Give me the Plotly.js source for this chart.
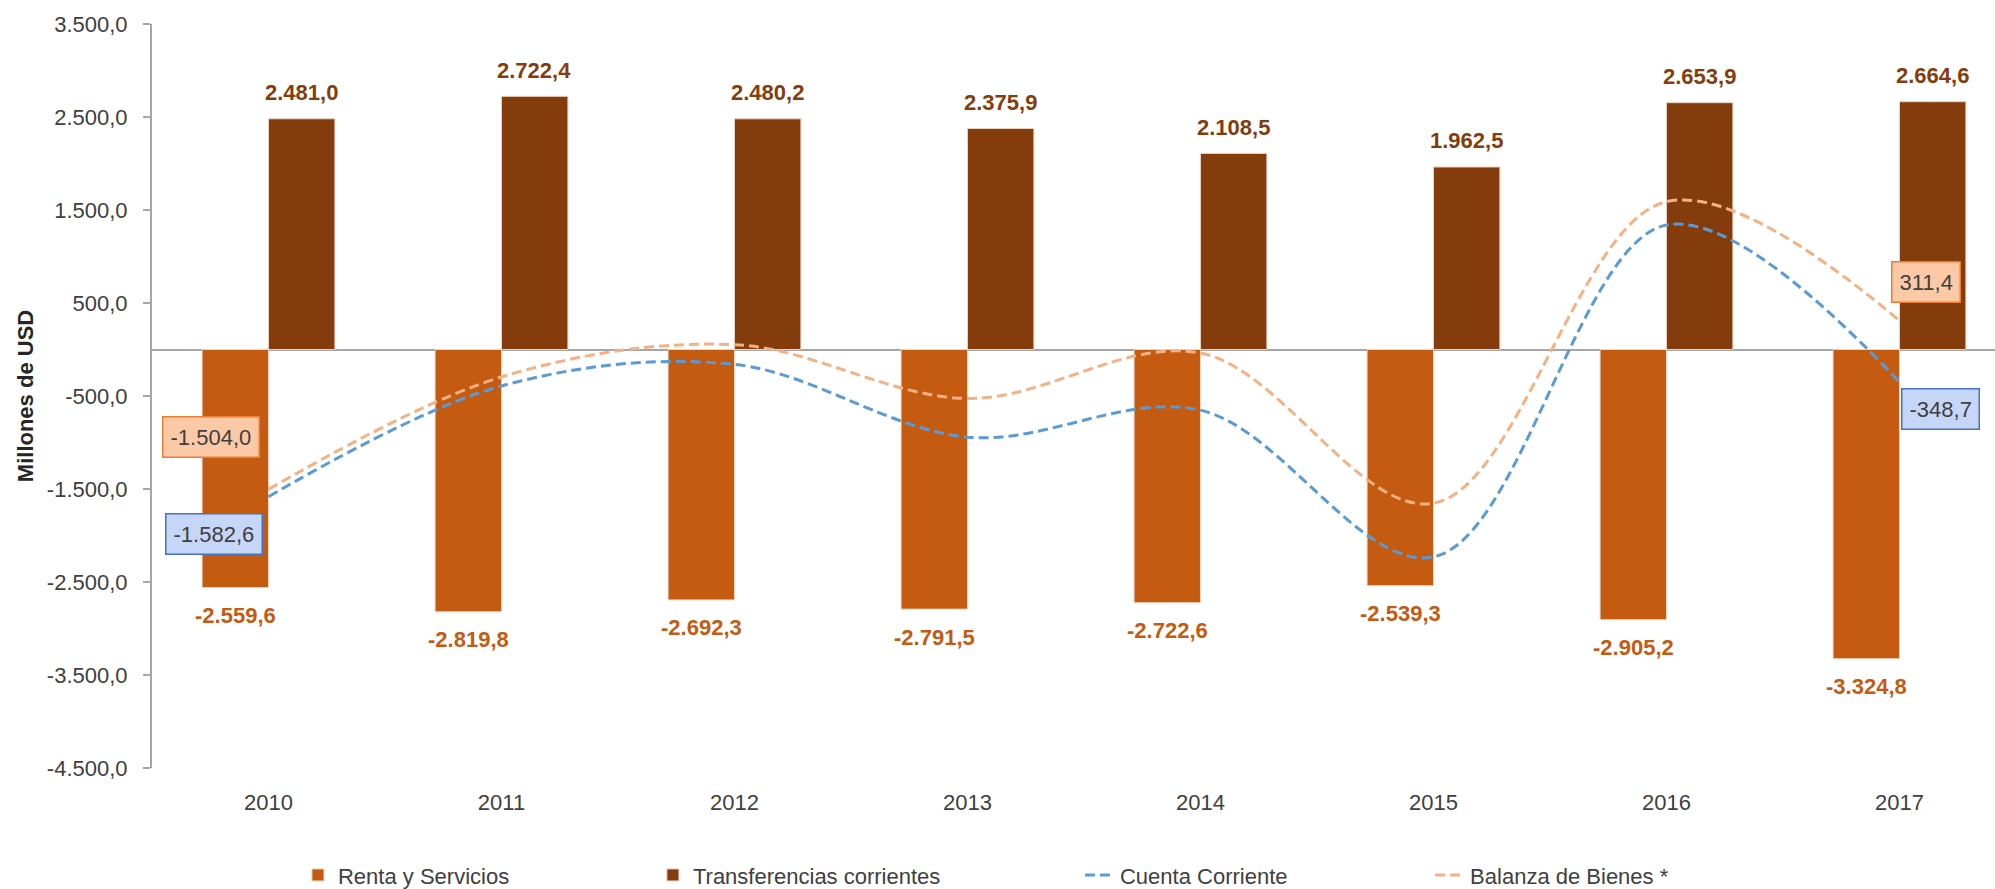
<!DOCTYPE html>
<html>
<head>
<meta charset="utf-8">
<script src="https://cdn.plot.ly/plotly-3.0.1.min.js"></script>
<style>
  html, body { margin: 0; padding: 0; background: #ffffff; }
  #chart { width: 1995px; height: 889px; }
  #err { position: absolute; left: 10px; top: 10px; color: red; font: 14px monospace; white-space: pre; }
</style>
</head>
<body>
<div id="chart"></div>
<div id="err"></div>
<script>
// ---- Data (millones de USD) ----
const years = ['2010', '2011', '2012', '2013', '2014', '2015', '2016', '2017'];
const rentaServicios = [-2559.6, -2819.8, -2692.3, -2791.5, -2722.6, -2539.3, -2905.2, -3324.8];
const transferencias = [2481.0, 2722.4, 2480.2, 2375.9, 2108.5, 1962.5, 2653.9, 2664.6];
const cuentaCorriente = [-1582.6, -392.4, -160.1, -942.6, -652.1, -2229.8, 1338.7, -348.7];
const balanzaBienes = [-1504.0, -295.0, 52.0, -527.0, -38.0, -1653.0, 1590.0, 311.4];
const yTickVals = [-4500, -3500, -2500, -1500, -500, 500, 1500, 2500, 3500];

const seriesNames = ['Renta y Servicios', 'Transferencias corrientes', 'Cuenta Corriente', 'Balanza de Bienes *'];

// ---- Styles ----
const FONT = '"Liberation Sans", Arial, sans-serif';
const FS = 22;
const C_RENTA = '#C55A11';
const C_TRANSF = '#843C0C';
const C_CC = '#5B9BD5';
const C_BB = '#F4B183';
const TXT = '#404040';
const AXIS = '#A6A6A6';

function fmt(v) {
  const neg = v < 0;
  const parts = Math.abs(v).toFixed(1).split('.');
  const intPart = parts[0].replace(/\B(?=(\d{3})+(?!\d))/g, '.');
  return (neg ? '-' : '') + intPart + ',' + parts[1];
}

const traces = [
  {
    type: 'bar', name: seriesNames[0], x: years, y: rentaServicios,
    marker: { color: C_RENTA, line: { color: '#E9D3C2', width: 1 } },
    legend: 'legend'
  },
  {
    type: 'bar', name: seriesNames[1], x: years, y: transferencias,
    marker: { color: C_TRANSF, line: { color: '#E9D3C2', width: 1 } },
    legend: 'legend2'
  },
  {
    type: 'scatter', mode: 'lines', name: seriesNames[2], x: years, y: cuentaCorriente,
    line: { color: C_CC, width: 3, dash: '10px,5px', shape: 'spline', smoothing: 1 },
    legend: 'legend3'
  },
  {
    type: 'scatter', mode: 'lines', name: seriesNames[3], x: years, y: balanzaBienes,
    line: { color: C_BB, width: 3, dash: '10px,5px', shape: 'spline', smoothing: 1 },
    legend: 'legend4'
  }
];

// annotation x positions on a category axis are the category indices
const annotations = [];
years.forEach((yr, i) => {
  annotations.push({
    x: i, y: rentaServicios[i], xref: 'x', yref: 'y', showarrow: false,
    text: '<b>' + fmt(rentaServicios[i]) + '</b>', xshift: -33, yshift: -28,
    xanchor: 'center', yanchor: 'middle',
    font: { family: FONT, size: FS, color: C_RENTA }
  });
  annotations.push({
    x: i, y: transferencias[i], xref: 'x', yref: 'y', showarrow: false,
    text: '<b>' + fmt(transferencias[i]) + '</b>', xshift: 33, yshift: 26,
    xanchor: 'center', yanchor: 'middle',
    font: { family: FONT, size: FS, color: C_TRANSF }
  });
});

function boxLabel(series, idx, xs, ys, bg, border) {
  return {
    x: idx, y: series[idx], xref: 'x', yref: 'y', showarrow: false,
    text: fmt(series[idx]), xshift: xs, yshift: ys,
    xanchor: 'center', yanchor: 'middle',
    bgcolor: bg, bordercolor: border, borderwidth: 1.5, borderpad: 7,
    font: { family: FONT, size: FS, color: TXT }
  };
}
const last = years.length - 1;
annotations.push(boxLabel(balanzaBienes, 0, -58, 52, '#FBC9A6', '#ED7D31'));
annotations.push(boxLabel(cuentaCorriente, 0, -55, -37, '#C6D6F8', '#4472C4'));
annotations.push(boxLabel(balanzaBienes, last, 27, 39, '#FBC9A6', '#ED7D31'));
annotations.push(boxLabel(cuentaCorriente, last, 41, -27, '#C6D6F8', '#4472C4'));

const legendCommon = {
  orientation: 'h', yanchor: 'middle', xanchor: 'left', y: -0.144,
  font: { family: FONT, size: FS, color: TXT }, bgcolor: 'rgba(0,0,0,0)'
};

const yMin = -4500, yMax = 3500;

const layout = {
  width: 1995, height: 889,
  margin: { l: 152, r: 0, t: 24, b: 121, autoexpand: false },
  paper_bgcolor: '#ffffff', plot_bgcolor: '#ffffff',
  separators: ',.',
  barmode: 'group', bargap: 0.43, bargroupgap: 0,
  font: { family: FONT, size: FS, color: TXT },
  showlegend: true,
  xaxis: {
    type: 'category', range: [-0.5, 7.41], showline: false, showgrid: false,
    zeroline: false, ticks: '', ticklabelstandoff: 19, automargin: false,
    tickfont: { family: FONT, size: FS, color: TXT }
  },
  yaxis: {
    range: [yMin, yMax], tickvals: yTickVals, ticktext: yTickVals.map(fmt),
    showline: true, linecolor: AXIS, linewidth: 2, automargin: false,
    ticks: 'outside', ticklen: 7, tickwidth: 1.5, tickcolor: AXIS,
    showgrid: false, zeroline: true, zerolinecolor: AXIS, zerolinewidth: 2,
    ticklabelstandoff: 11,
    tickfont: { family: FONT, size: FS, color: TXT },
    title: { text: 'Millones de USD', standoff: 7,
             font: { family: FONT, size: FS, color: '#262626', weight: 700 } }
  },
  legend: Object.assign({}, legendCommon, { x: 0.0792 }),
  legend2: Object.assign({}, legendCommon, { x: 0.2718 }),
  legend3: Object.assign({}, legendCommon, { x: 0.5035 }),
  legend4: Object.assign({}, legendCommon, { x: 0.6935 }),
  annotations: annotations
};

Plotly.newPlot('chart', traces, layout, { displayModeBar: false, staticPlot: true })
  .catch(e => { document.getElementById('err').textContent = String(e && e.stack || e); });
</script>
</body>
</html>
